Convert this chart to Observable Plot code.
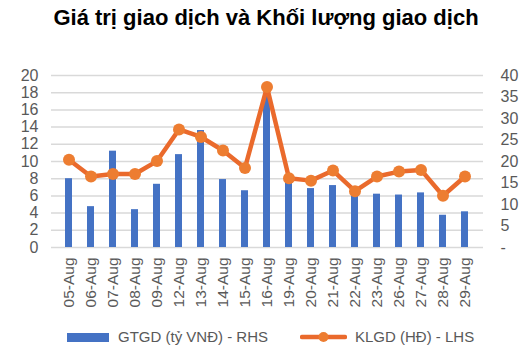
<!DOCTYPE html>
<html><head><meta charset="utf-8">
<script src="https://cdn.jsdelivr.net/npm/d3@7"></script>
<script src="https://cdn.jsdelivr.net/npm/@observablehq/plot@0.6"></script>
<style>
body{margin:0;background:#fff;font-family:"Liberation Sans",Arial,sans-serif;}
#wrap{position:relative;width:532px;height:357px;overflow:hidden;}
#title{height:36px;line-height:36px;text-align:center;font-weight:bold;font-size:22px;color:#000;}
#chart{height:280px;}
.lg{position:absolute;top:325px;height:24px;line-height:24px;font-size:15px;color:#595959;}
</style></head><body>
<div id="wrap">
<div id="title">Giá trị giao dịch và Khối lượng giao dịch</div>
<div id="chart"></div>
<div class="lg" style="left:67px;"><span style="display:inline-block;width:42px;height:9px;background:#4472C4;vertical-align:middle;margin-right:9px;position:relative;top:-1px;"></span>GTGD (tỷ VNĐ) - RHS</div>
<div class="lg" style="left:300px;"><svg width="47" height="14" style="vertical-align:middle;margin-right:8px;position:relative;top:-1px;"><line x1="2" y1="7" x2="45" y2="7" stroke="#EA6A2C" stroke-width="4.5" stroke-linecap="round"/><circle cx="23.5" cy="7" r="5" fill="#ED7D31"/></svg>KLGD (HĐ) - LHS</div>
</div>
<script>
const dates = ["05-Aug","06-Aug","07-Aug","08-Aug","09-Aug","12-Aug","13-Aug","14-Aug","15-Aug","16-Aug","19-Aug","20-Aug","21-Aug","22-Aug","23-Aug","26-Aug","27-Aug","28-Aug","29-Aug"];
const gtgd = [8.0,4.75,11.2,4.4,7.35,10.8,13.6,7.9,6.6,17.6,7.7,6.85,7.2,6.0,6.2,6.1,6.35,3.75,4.15];
const klgd = [20.4,16.5,17.1,17.1,20.1,27.45,25.7,22.55,18.5,37.3,16.1,15.55,17.9,13.1,16.5,17.65,18.05,12.05,16.5];
const leftTicks = [0,2,4,6,8,10,12,14,16,18,20];
const rightTicks = [0,5,10,15,20,25,30,35,40];

const data = dates.map((d,i)=>({date:d, gtgd:gtgd[i], klgd:klgd[i]}));
const chart = Plot.plot({
  width:532, height:280,
  marginTop:39, marginBottom:69, marginLeft:51, marginRight:49,
  style:{fontFamily:'"Liberation Sans",Arial,sans-serif', fontSize:"15.5px", color:"#595959", background:"#fff", overflow:"visible"},
  x:{domain:dates, paddingInner:0.68, paddingOuter:0.34, label:null},
  y:{domain:[0,20], label:null},
  marks:[
    Plot.ruleY(leftTicks,{stroke:"#d9d9d9", strokeWidth:1.5}),
    Plot.barY(data,{x:"date", y:"gtgd", fill:"#4472C4"}),
    Plot.line(data,{x:"date", y:d=>d.klgd/2, stroke:"#EA6A2C", strokeWidth:4.5}),
    Plot.dot(data,{x:"date", y:d=>d.klgd/2, r:6, fill:"#ED7D31"}),
    Plot.axisY(leftTicks,{anchor:"left", tickSize:0, tickPadding:13, label:null, fontSize:16}),
    Plot.axisY(rightTicks.map(v=>v/2),{anchor:"right", tickSize:0, tickPadding:17, label:null, fontSize:16,
      tickFormat:d=>d===0?"-":String(d*2)}),
    Plot.axisX({tickRotate:-90, tickSize:0, tickPadding:10, label:null})
  ]
});
document.getElementById("chart").appendChild(chart);
</script>
</body></html>
